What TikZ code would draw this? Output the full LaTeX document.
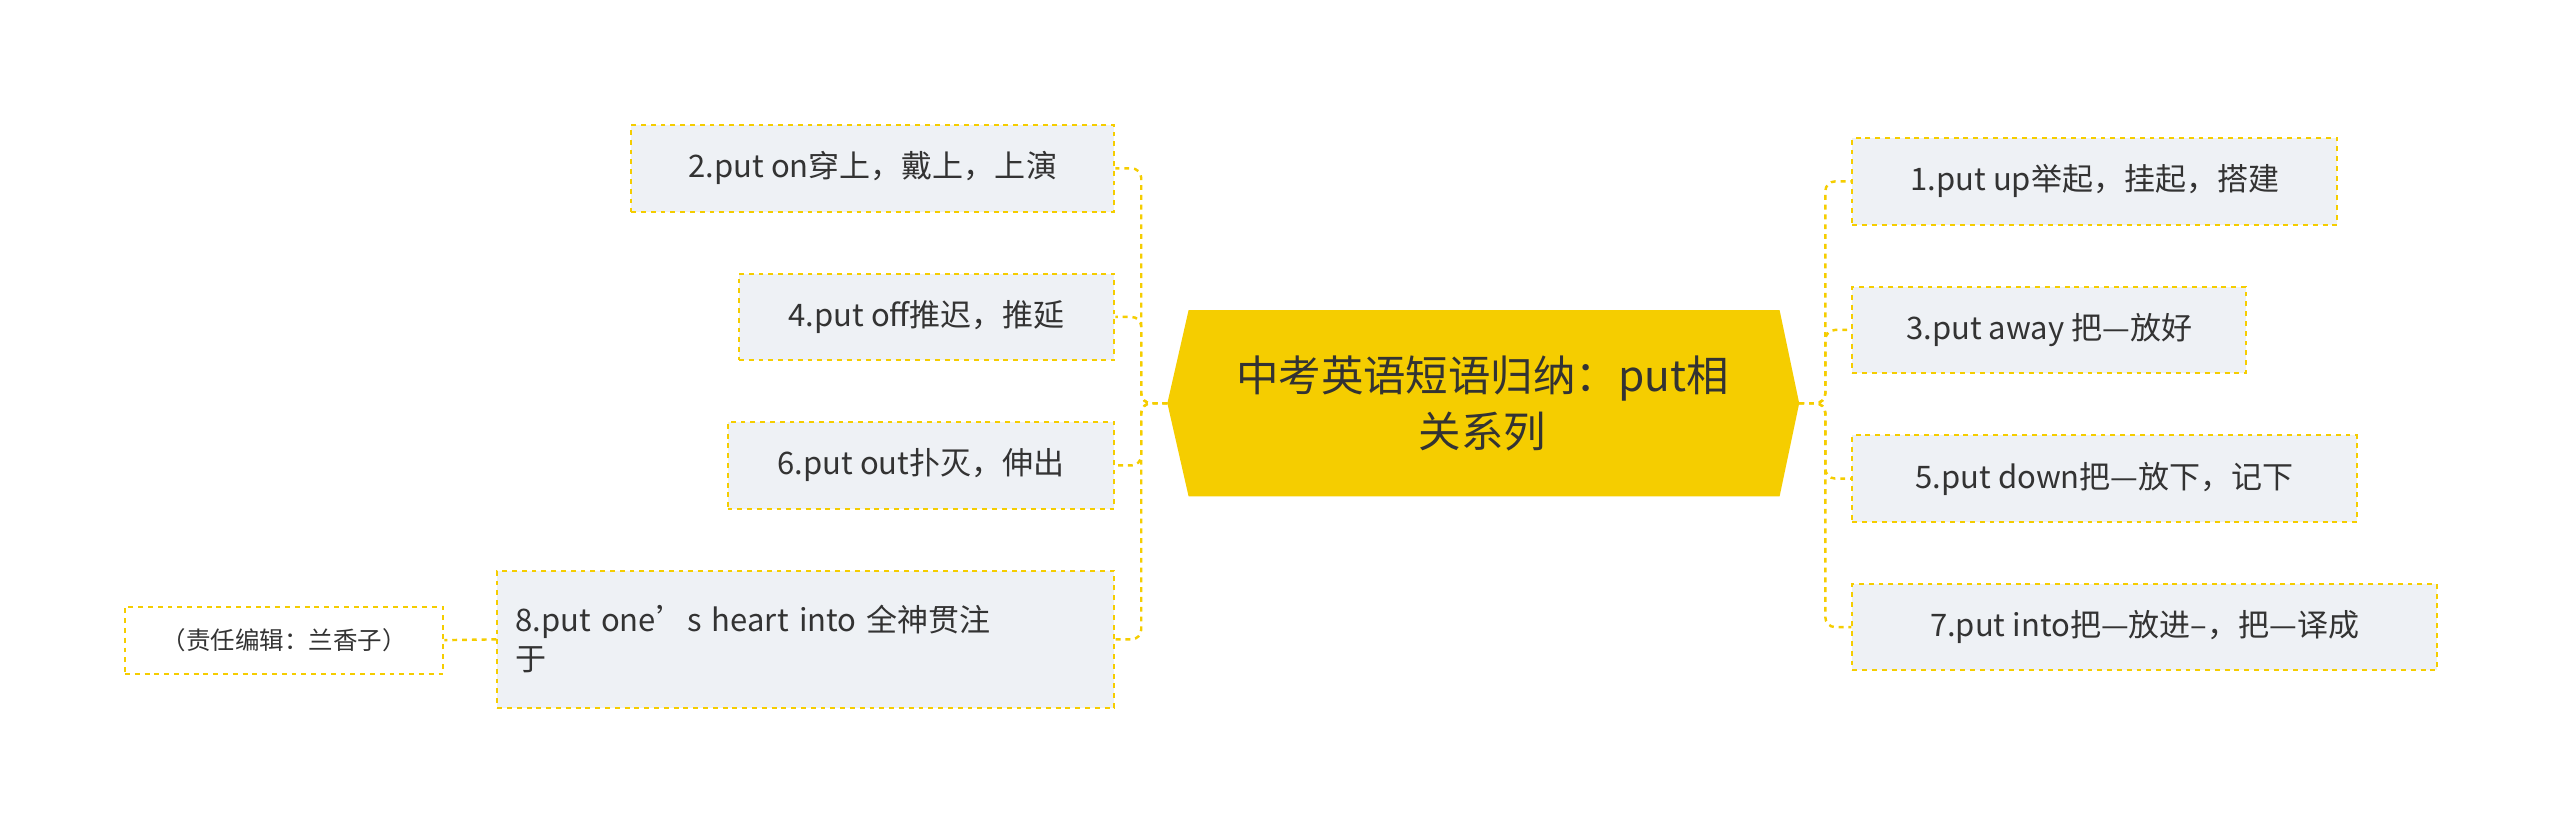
\documentclass[tikz,border=0pt]{standalone}
\usepackage{fontspec}
\setmainfont{Noto Sans CJK SC}
\definecolor{gold}{HTML}{F5CD00}
\definecolor{leaf}{HTML}{EEF1F5}
\definecolor{txt}{HTML}{333333}
\begin{document}
\begin{tikzpicture}[x=1pt,y=-1pt,
  leafbox/.style={draw=gold,dashed,line width=1.2pt,fill=leaf,text=txt,font=\fontsize{19}{24}\selectfont,inner sep=0pt,anchor=north west},
  link/.style={draw=gold,dashed,line width=1.5pt,rounded corners=6pt}]
\useasboundingbox (0,0) rectangle (1568,510);
\fill[gold] (715,247) -- (728,190) -- (1090,190) -- (1102,247) -- (1090,304) -- (728,304) -- cycle;
\node[text=txt,font=\fontsize{26}{34}\selectfont,align=center] (c) at (908,247) {中考英语短语归纳：put相\\关系列};
\coordinate (cl) at (715,247);
\coordinate (cr) at (1102,247);
\node[leafbox,minimum width=296pt,minimum height=53pt] (n2) at (386,76) {2.put on穿上，戴上，上演};
\node[leafbox,minimum width=230pt,minimum height=53pt] (n4) at (452,167) {4.put off推迟，推延};
\node[leafbox,minimum width=237pt,minimum height=53pt] (n6) at (445,258) {6.put out扑灭，伸出};
\node[leafbox,minimum width=378pt,minimum height=84pt,text width=356pt,align=left,inner xsep=11pt] (n8) at (304,349) {8.put one's heart into 全神贯注\\于};
\node[leafbox,fill=white,minimum width=195pt,minimum height=41pt,font=\fontsize{15}{18}\selectfont] (nt) at (76,371) {（责任编辑：兰香子）};
\node[leafbox,minimum width=297pt,minimum height=53pt] (n1) at (1134,84) {1.put up举起，挂起，搭建};
\node[leafbox,minimum width=241pt,minimum height=53pt] (n3) at (1134,175) {3.put away 把—放好};
\node[leafbox,minimum width=309pt,minimum height=53pt] (n5) at (1134,266) {5.put down把—放下，记下};
\node[leafbox,minimum width=358pt,minimum height=53pt] (n7) at (1134,357) {7.put into把—放进--，把—译成};
\foreach \n in {n2,n4,n6,n8}{\draw[link] (cl) -- (699,247) |- (\n.east);}
\foreach \n in {n1,n3,n5,n7}{\draw[link] (cr) -- (1118,247) |- (\n.west);}
\draw[link] (n8.west) -- (nt.east);
\end{tikzpicture}
\end{document}
